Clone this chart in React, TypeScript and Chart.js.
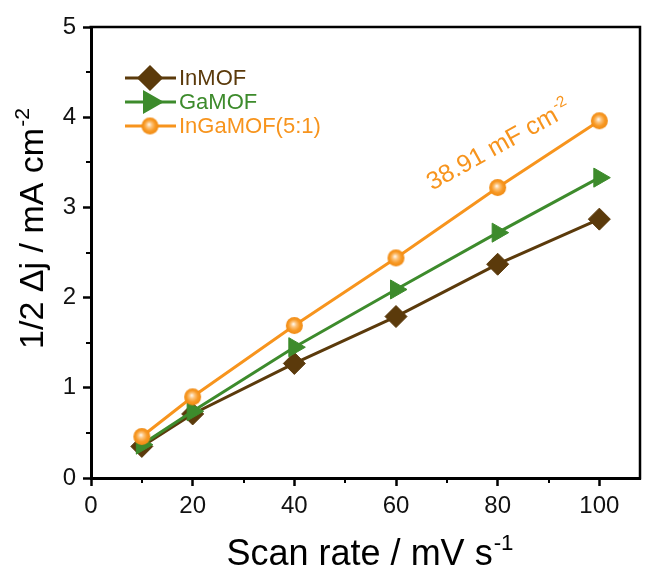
import React, { useEffect, useRef } from "react";
import { Chart, registerables } from "chart.js";
import { drawPoint } from "chart.js/helpers";

Chart.register(...registerables);

// ---------- data ----------
const scanRates = [10, 20, 40, 60, 80, 100];
const inMOF = [0.35, 0.71, 1.27, 1.79, 2.37, 2.87];
const gaMOF = [0.37, 0.74, 1.45, 2.09, 2.72, 3.33];
const inGaMOF = [0.46, 0.9, 1.69, 2.44, 3.22, 3.96];
const seriesNames = ["InMOF", "GaMOF", "InGaMOF(5:1)"];
const xTickValues = [0, 20, 40, 60, 80, 100];
const yTickValues = [0, 1, 2, 3, 4, 5];
const xMinorTicks = [10, 30, 50, 70, 90];
const yMinorTicks = [0.5, 1.5, 2.5, 3.5, 4.5];
const xTitle = ["Scan rate / mV s", "-1"];
const yTitle = ["1/2 \u0394j / mA cm", "-2"];
const annotation = ["38.91 mF cm", "-2"];
const annotationAt = { x: 80.0, y: 3.7 };

// ---------- styles ----------
const FONT = "'Liberation Sans', Arial, Helvetica, sans-serif";
const BROWN = "#5b3a0b";
const GREEN = "#3d8b2c";
const ORANGE = "#f7941d";

function makeSphere(r: number): HTMLCanvasElement {
  const c = document.createElement("canvas");
  const s = Math.ceil(r * 2 + 2);
  c.width = s;
  c.height = s;
  const g = c.getContext("2d")!;
  const cx = s / 2;
  const cy = s / 2;
  const grad = g.createRadialGradient(cx - 1, cy - 1.5, 0.3, cx, cy, r);
  grad.addColorStop(0, "#fff6e8");
  grad.addColorStop(0.3, "#fcc27a");
  grad.addColorStop(0.65, "#f89a26");
  grad.addColorStop(1, "#f08a12");
  g.fillStyle = grad;
  g.beginPath();
  g.arc(cx, cy, r, 0, Math.PI * 2);
  g.fill();
  return c;
}

function drawSupText(
  ctx: CanvasRenderingContext2D,
  main: string,
  sup: string,
  size: number,
  color: string
) {
  // draws centered at origin (cap middle of main text at y=0)
  ctx.fillStyle = color;
  ctx.textBaseline = "alphabetic";
  ctx.textAlign = "left";
  ctx.font = `${size}px ${FONT}`;
  const w1 = ctx.measureText(main).width;
  const supSize = size * 0.62;
  ctx.font = `${supSize}px ${FONT}`;
  const w2 = ctx.measureText(sup).width;
  const start = -(w1 + w2) / 2;
  const base = size * 0.358;
  ctx.font = `${size}px ${FONT}`;
  ctx.fillText(main, start, base);
  ctx.font = `${supSize}px ${FONT}`;
  ctx.fillText(sup, start + w1 + 1, base - size * 0.42);
}

export default function App() {
  const ref = useRef<HTMLCanvasElement>(null);

  useEffect(() => {
    if (!ref.current) return;
    const sphere = makeSphere(8.5);

    const markers = [
      { pointStyle: "rectRot", rotation: 0, radius: 11, color: BROWN },
      { pointStyle: "triangle", rotation: 90, radius: 11, color: GREEN },
      { pointStyle: sphere, rotation: 0, radius: 9, color: ORANGE },
    ];

    const decorations = {
      id: "decorations",
      afterDraw(chart: any) {
        const ctx: CanvasRenderingContext2D = chart.ctx;
        const { left, right, top, bottom } = chart.chartArea;
        const xs = chart.scales.x;
        const ys = chart.scales.y;
        ctx.save();
        // frame top and right
        ctx.strokeStyle = "#000";
        ctx.lineWidth = 2.5;
        ctx.beginPath();
        ctx.moveTo(left - 1.5, top);
        ctx.lineTo(right, top);
        ctx.lineTo(right, bottom + 1.5);
        ctx.stroke();
        // minor ticks
        ctx.lineWidth = 2;
        ctx.beginPath();
        xMinorTicks.forEach((v) => {
          const px = Math.round(xs.getPixelForValue(v));
          ctx.moveTo(px, bottom);
          ctx.lineTo(px, bottom + 5);
        });
        yMinorTicks.forEach((v) => {
          const py = Math.round(ys.getPixelForValue(v));
          ctx.moveTo(left, py);
          ctx.lineTo(left - 5, py);
        });
        ctx.stroke();

        // axis titles
        ctx.save();
        ctx.translate((left + right) / 2 + 4, 552);
        drawSupText(ctx, xTitle[0], xTitle[1], 36, "#000");
        ctx.restore();
        ctx.save();
        ctx.translate(31, 229);
        ctx.rotate(-Math.PI / 2);
        drawSupText(ctx, yTitle[0], yTitle[1], 34, "#000");
        ctx.restore();

        // annotation
        ctx.save();
        ctx.translate(xs.getPixelForValue(annotationAt.x), ys.getPixelForValue(annotationAt.y));
        ctx.rotate((-29 * Math.PI) / 180);
        drawSupText(ctx, annotation[0], annotation[1], 25, ORANGE);
        ctx.restore();

        // legend
        const rows = [78, 102, 126];
        seriesNames.forEach((name, i) => {
          const y = rows[i];
          const m = markers[i];
          ctx.strokeStyle = m.color;
          ctx.lineWidth = 3;
          ctx.beginPath();
          ctx.moveTo(125, y);
          ctx.lineTo(176, y);
          ctx.stroke();
          ctx.fillStyle = m.color;
          ctx.strokeStyle = m.color;
          drawPoint(ctx, { pointStyle: m.pointStyle, rotation: m.rotation, radius: m.radius, borderWidth: 1 } as any, 150, y);
          ctx.fillStyle = m.color;
          ctx.font = `22px ${FONT}`;
          ctx.textAlign = "left";
          ctx.textBaseline = "middle";
          ctx.fillText(name, 179, y + 1);
        });
        ctx.restore();
      },
    };

    const mk = (vals: number[]) => scanRates.map((x, i) => ({ x, y: vals[i] }));

    const chart = new Chart(ref.current, {
      type: "line",
      data: {
        datasets: [
          {
            label: seriesNames[0],
            data: mk(inMOF),
            borderColor: BROWN,
            backgroundColor: BROWN,
            borderWidth: 3,
            pointStyle: "rectRot",
            pointRadius: 11,
            pointBorderWidth: 1,
            pointBorderColor: BROWN,
            pointBackgroundColor: BROWN,
            order: 2,
          },
          {
            label: seriesNames[1],
            data: mk(gaMOF),
            borderColor: GREEN,
            backgroundColor: GREEN,
            borderWidth: 3,
            pointStyle: "triangle",
            pointRotation: 90,
            pointRadius: 11,
            pointBorderWidth: 1,
            pointBorderColor: GREEN,
            pointBackgroundColor: GREEN,
            order: 1,
          },
          {
            label: seriesNames[2],
            data: mk(inGaMOF),
            borderColor: ORANGE,
            backgroundColor: ORANGE,
            borderWidth: 3,
            pointStyle: sphere as any,
            pointRadius: 9,
            order: 0,
          },
        ] as any,
      },
      options: {
        responsive: false,
        devicePixelRatio: 1,
        animation: false,
        layout: { padding: { top: 27, right: 10, left: 0, bottom: 0 } },
        plugins: { legend: { display: false }, tooltip: { enabled: false } },
        scales: {
          x: {
            type: "linear",
            min: 0,
            max: 108,
            afterFit: (s: any) => {
              s.height = 100;
            },
            afterBuildTicks: (s: any) => {
              s.ticks = xTickValues.map((v) => ({ value: v }));
            },
            ticks: { font: { family: FONT, size: 24 }, color: "#111", padding: 6 },
            grid: { display: true, drawOnChartArea: false, color: "#000", tickLength: 8, tickWidth: 2.5 },
            border: { display: true, color: "#000", width: 3 },
          },
          y: {
            type: "linear",
            min: 0,
            max: 5,
            afterFit: (s: any) => {
              s.width = 91;
            },
            afterBuildTicks: (s: any) => {
              s.ticks = yTickValues.map((v) => ({ value: v }));
            },
            ticks: { font: { family: FONT, size: 24 }, color: "#111", padding: 7 },
            grid: { display: true, drawOnChartArea: false, color: "#000", tickLength: 8, tickWidth: 2.5 },
            border: { display: true, color: "#000", width: 3 },
          },
        },
      } as any,
      plugins: [decorations],
    });
    return () => chart.destroy();
  }, []);

  return (
    <div style={{ position: "absolute", left: 0, top: 0, width: 652, height: 578, background: "#fff" }}>
      <canvas ref={ref} width={652} height={578} style={{ display: "block" }} />
    </div>
  );
}
